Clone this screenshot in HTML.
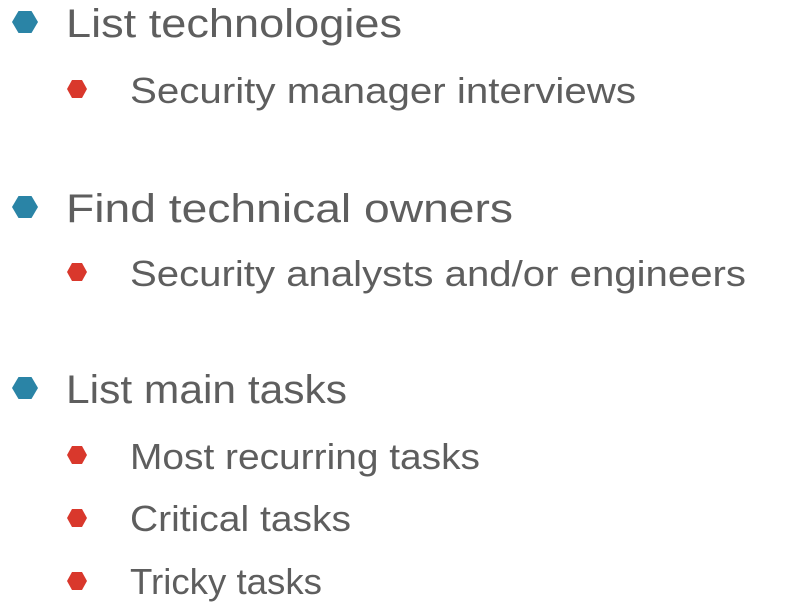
<!DOCTYPE html>
<html><head><meta charset="utf-8"><style>
html,body{margin:0;padding:0;background:#fff;}
svg{display:block}
text{font-family:"Liberation Sans",sans-serif;fill:#5e5e5e;}
</style></head><body>
<svg width="806" height="614" viewBox="0 0 806 614">
<defs>
<polygon id="hexL" points="-13,0 -6.5,-11 6.5,-11 13,0 6.5,11 -6.5,11"/>
<polygon id="hexS" points="-10,0 -5,-9 5,-9 10,0 5,9 -5,9"/>
</defs>
<g>
<use href="#hexL" x="25" y="22" fill="#2a84a6"/>
<text x="66" y="37" font-size="40" textLength="336" lengthAdjust="spacingAndGlyphs">List technologies</text>
</g>
<g>
<use href="#hexS" x="77" y="89" fill="#d9382c"/>
<text x="130" y="103" font-size="36" textLength="506" lengthAdjust="spacingAndGlyphs">Security manager interviews</text>
</g>
<g>
<use href="#hexL" x="25" y="207" fill="#2a84a6"/>
<text x="66" y="222" font-size="40" textLength="447" lengthAdjust="spacingAndGlyphs">Find technical owners</text>
</g>
<g>
<use href="#hexS" x="77" y="272" fill="#d9382c"/>
<text x="130" y="286" font-size="36" textLength="616" lengthAdjust="spacingAndGlyphs">Security analysts and/or engineers</text>
</g>
<g>
<use href="#hexL" x="25" y="388" fill="#2a84a6"/>
<text x="66" y="403" font-size="40" textLength="281" lengthAdjust="spacingAndGlyphs">List main tasks</text>
</g>
<g>
<use href="#hexS" x="77" y="455" fill="#d9382c"/>
<text x="130" y="469" font-size="36" textLength="350" lengthAdjust="spacingAndGlyphs">Most recurring tasks</text>
</g>
<g>
<use href="#hexS" x="77" y="518" fill="#d9382c"/>
<text x="130" y="531" font-size="36" textLength="221" lengthAdjust="spacingAndGlyphs">Critical tasks</text>
</g>
<g>
<use href="#hexS" x="77" y="581" fill="#d9382c"/>
<text x="130" y="594" font-size="36" textLength="192" lengthAdjust="spacingAndGlyphs">Tricky tasks</text>
</g>
</svg>
</body></html>
